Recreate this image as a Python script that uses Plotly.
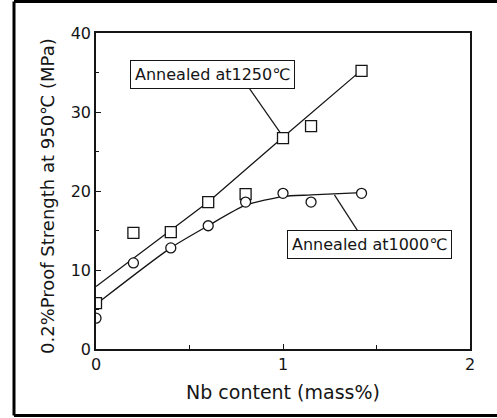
import plotly.graph_objects as go

# Data
nb_1250 = [0.0, 0.2, 0.4, 0.6, 0.8, 1.0, 1.15, 1.42]
ps_1250 = [5.8, 14.7, 14.8, 18.6, 19.6, 26.7, 28.2, 35.2]
nb_1000 = [0.0, 0.2, 0.4, 0.6, 0.8, 1.0, 1.15, 1.42]
ps_1000 = [3.9, 10.9, 12.8, 15.6, 18.6, 19.7, 18.6, 19.7]

# Fitted (hand-drawn) trend lines
fit_x_1250 = [0.0, 0.4, 0.6, 1.0, 1.42]
fit_y_1250 = [7.9, 15.0, 18.6, 26.8, 35.3]
fit_x_1000 = [0.03, 0.4, 0.6, 0.8, 1.0, 1.15, 1.42]
fit_y_1000 = [6.2, 12.8, 15.6, 18.2, 19.3, 19.5, 19.8]

x_ticks = [0, 1, 2]
y_ticks = [0, 10, 20, 30, 40]

x_title = "Nb content (mass%)"
y_title = "0.2%Proof Strength at 950\u2103 (MPa)"
label_1250 = "Annealed at1250\u2103"
label_1000 = "Annealed at1000\u2103"
pos_1250 = (0.622, 34.8)
pos_1000 = (1.463, 13.2)
leader_1250 = ([0.82, 0.985], [33.0, 27.4])
leader_1000 = ([1.42, 1.275], [14.2, 19.5])

ink = "#151515"
font = "DejaVu Sans"
L, T, W, H = 96, 33, 374, 316  # plot area in pixels


def px(xp):
    return (xp - L) / W


def py(yp):
    return (T + H - yp) / H


fig = go.Figure()
fig.add_trace(go.Scatter(x=fit_x_1250, y=fit_y_1250, mode="lines",
                         line=dict(color=ink, width=1.3), hoverinfo="skip"))
fig.add_trace(go.Scatter(x=fit_x_1000, y=fit_y_1000, mode="lines",
                         line=dict(color=ink, width=1.3, shape="spline", smoothing=0.7),
                         hoverinfo="skip"))
fig.add_trace(go.Scatter(x=leader_1250[0], y=leader_1250[1], mode="lines",
                         line=dict(color=ink, width=1.2), hoverinfo="skip"))
fig.add_trace(go.Scatter(x=leader_1000[0], y=leader_1000[1], mode="lines",
                         line=dict(color=ink, width=1.2), hoverinfo="skip"))
fig.add_trace(go.Scatter(x=nb_1250, y=ps_1250, mode="markers", name=label_1250,
                         marker=dict(symbol="square", size=11, color="white",
                                     line=dict(color=ink, width=1.3))))
fig.add_trace(go.Scatter(x=nb_1000, y=ps_1000, mode="markers", name=label_1000,
                         marker=dict(symbol="circle", size=10, color="white",
                                     line=dict(color=ink, width=1.3))))

for text, (ax_, ay_) in [(label_1250, pos_1250), (label_1000, pos_1000)]:
    fig.add_annotation(x=ax_, y=ay_, text=text, showarrow=False,
                       font=dict(family=font, size=16, color=ink),
                       bgcolor="white", bordercolor=ink, borderwidth=1, borderpad=4)

# axis titles
fig.add_annotation(x=px(283), y=py(392), xref="paper", yref="paper", text=x_title,
                   showarrow=False, font=dict(family=font, size=19, color=ink),
                   xanchor="center", yanchor="middle")
fig.add_annotation(x=px(47), y=py(196), xref="paper", yref="paper", text=y_title,
                   showarrow=False, textangle=-90,
                   font=dict(family=font, size=18, color=ink),
                   xanchor="center", yanchor="middle")

# outer frame (top, left, bottom)
frame = dict(color="black", width=3)
fig.add_shape(type="line", xref="paper", yref="paper",
              x0=px(14), x1=px(500), y0=py(1.5), y1=py(1.5), line=frame)
fig.add_shape(type="line", xref="paper", yref="paper",
              x0=px(14), x1=px(14), y0=py(1.5), y1=py(415.5), line=frame)
fig.add_shape(type="line", xref="paper", yref="paper",
              x0=px(14), x1=px(500), y0=py(415.5), y1=py(415.5), line=frame)

fig.update_layout(
    width=497, height=418,
    margin=dict(l=L, r=497 - L - W, t=T, b=418 - T - H),
    paper_bgcolor="white", plot_bgcolor="white",
    showlegend=False,
    font=dict(family=font, size=16, color=ink),
    xaxis=dict(range=[0, 2], tickvals=x_ticks, ticks="inside", ticklen=5,
               tickwidth=1.2, tickcolor=ink, showline=True, linecolor=ink,
               linewidth=1.5, mirror=True, showgrid=False, zeroline=False,
               automargin=False,
               minor=dict(dtick=0.5, ticks="inside", ticklen=4, tickcolor=ink),
               tickfont=dict(size=16)),
    yaxis=dict(range=[0, 40], tickvals=y_ticks, ticks="inside", ticklen=5,
               tickwidth=1.2, tickcolor=ink, showline=True, linecolor=ink,
               linewidth=1.5, mirror=True, showgrid=False, zeroline=False,
               automargin=False,
               minor=dict(dtick=5, ticks="inside", ticklen=3, tickcolor=ink),
               tickfont=dict(size=16)),
)

fig.write_html(
    "out.html",
    config={"displayModeBar": False},
    post_script="document.body.style.margin='0px';document.body.style.overflow='hidden';",
)
